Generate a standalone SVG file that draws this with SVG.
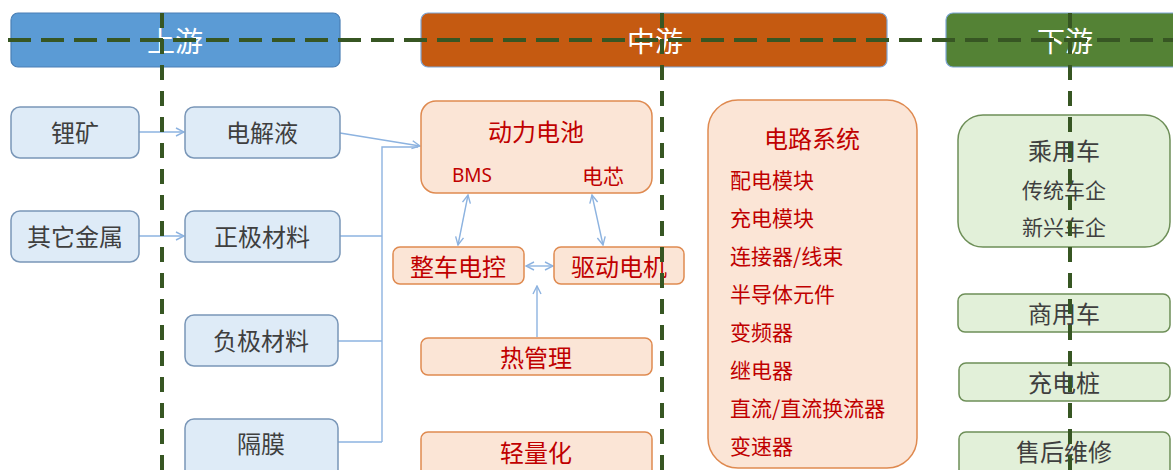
<svg xmlns="http://www.w3.org/2000/svg" width="1173" height="470" viewBox="0 0 1173 470">
<style>
text{font-family:"Noto Sans CJK SC","Noto Sans",sans-serif;text-anchor:middle;dominant-baseline:central}
.hdr text{fill:#fff;font-size:28px}
.b rect{fill:#DEEBF7;stroke:#7A97B8;stroke-width:1.5}
.b text{fill:#3F3F3F;font-size:24px}
.o rect{fill:#FBE5D6;stroke:#DF8A50;stroke-width:1.5}
.o text{fill:#C00000;font-size:24px}
.o text.s{font-size:21px}
.g rect{fill:#E2F0D9;stroke:#6E8F58;stroke-width:1.5}
.g text{fill:#3F3F3F;font-size:24px}
.g text.s{font-size:21px}
.l text{text-anchor:start}
.c{fill:none;stroke:#8DB3E0;stroke-width:1.4}
.dash{stroke:#375623;stroke-width:4;fill:none}
</style>
<defs>
<marker id="ah" viewBox="0 0 10 10" refX="9" refY="5" markerWidth="10" markerHeight="10" markerUnits="userSpaceOnUse" orient="auto-start-reverse">
<path d="M1,1 L9,5 L1,9" fill="none" stroke="#8DB3E0" stroke-width="1.4"/>
</marker>
</defs>
<rect width="1173" height="470" fill="#fff"/>
<g id="headers" class="hdr">
<g id="h-up"><rect x="11" y="13" width="329" height="54" rx="7" fill="#5B9BD5" stroke="#4A7FB5" stroke-width="1.2"/><text x="175" y="40">上游</text></g>
<g id="h-mid"><rect x="421" y="13" width="466" height="54" rx="7" fill="#C55A11" stroke="#7EA6D6" stroke-width="1.2"/><text x="655" y="40">中游</text></g>
<g id="h-down"><rect x="946" y="13" width="240" height="54" rx="7" fill="#548235" stroke="#7EA6D6" stroke-width="1.2"/><text x="1065" y="40">下游</text></g>
</g>
<g id="connectors">
<path class="c" d="M139,132 H184" marker-end="url(#ah)"/>
<path class="c" d="M139,236 H184" marker-end="url(#ah)"/>
<path class="c" d="M340,133 L420,146" marker-end="url(#ah)"/>
<path class="c" d="M382,442 V147 H418"/>
<path class="c" d="M340,236 H382"/>
<path class="c" d="M338,341 H382"/>
<path class="c" d="M338,442 H382"/>
<path class="c" d="M468,195 L458,245" marker-start="url(#ah)" marker-end="url(#ah)"/>
<path class="c" d="M592,195 L603,245" marker-start="url(#ah)" marker-end="url(#ah)"/>
<path class="c" d="M526,266 H553" marker-start="url(#ah)" marker-end="url(#ah)"/>
<path class="c" d="M537,337 V286" marker-end="url(#ah)"/>
</g>
<g id="n-lithium" class="b"><rect x="11" y="107" width="128" height="51" rx="9"/><text x="75" y="131">锂矿</text></g>
<g id="n-metal" class="b"><rect x="11" y="211" width="128" height="51" rx="9"/><text x="75" y="235">其它金属</text></g>
<g id="n-electrolyte" class="b"><rect x="185" y="107" width="155" height="51" rx="9"/><text x="262" y="131">电解液</text></g>
<g id="n-cathode" class="b"><rect x="185" y="211" width="155" height="51" rx="9"/><text x="262" y="235">正极材料</text></g>
<g id="n-anode" class="b"><rect x="185" y="315" width="153" height="51" rx="9"/><text x="261" y="339">负极材料</text></g>
<g id="n-separator" class="b"><rect x="185" y="419" width="153" height="60" rx="9"/><text x="261" y="442">隔膜</text></g>
<g id="n-battery" class="o"><rect x="421" y="101" width="231" height="92" rx="15"/><text x="536" y="130">动力电池</text><text class="s" x="472" y="175" style="font-family:'Noto Sans',sans-serif;font-size:19px">BMS</text><text class="s" x="603" y="175">电芯</text></g>
<g id="n-vcu" class="o"><rect x="393" y="247" width="131" height="37" rx="7"/><text x="458" y="265">整车电控</text></g>
<g id="n-motor" class="o"><rect x="554" y="247" width="130" height="37" rx="7"/><text x="619" y="265">驱动电机</text></g>
<g id="n-thermal" class="o"><rect x="421" y="338" width="231" height="37" rx="7"/><text x="536" y="356">热管理</text></g>
<g id="n-light" class="o"><rect x="421" y="432" width="231" height="48" rx="7"/><text x="536" y="451">轻量化</text></g>
<g id="n-circuit" class="o l"><rect x="708" y="100" width="209" height="368" rx="30"/>
<text x="812" y="137" style="text-anchor:middle">电路系统</text>
<text class="s" x="730" y="179">配电模块</text>
<text class="s" x="730" y="217">充电模块</text>
<text class="s" x="730" y="255">连接器/线束</text>
<text class="s" x="730" y="293">半导体元件</text>
<text class="s" x="730" y="331">变频器</text>
<text class="s" x="730" y="369">继电器</text>
<text class="s" x="730" y="407">直流/直流换流器</text>
<text class="s" x="730" y="445">变速器</text>
</g>
<g id="n-passenger" class="g"><rect x="958" y="115" width="212" height="132" rx="25"/><text x="1064" y="149">乘用车</text><text class="s" x="1064" y="189">传统车企</text><text class="s" x="1064" y="226">新兴车企</text></g>
<g id="n-commercial" class="g"><rect x="958" y="294" width="212" height="38" rx="7"/><text x="1064" y="312">商用车</text></g>
<g id="n-charger" class="g"><rect x="959" y="363" width="211" height="38" rx="7"/><text x="1064" y="381">充电桩</text></g>
<g id="n-service" class="g"><rect x="959" y="432" width="211" height="48" rx="7"/><text x="1064" y="450">售后维修</text></g>
<g id="dividers">
<path class="dash" d="M8,40 H1173" stroke-dasharray="23 10"/>
<path class="dash" d="M162,13 V470" stroke-dasharray="15 11"/>
<path class="dash" d="M662,13 V470" stroke-dasharray="15 11"/>
<path class="dash" d="M1070,13 V470" stroke-dasharray="15 11"/>
</g>
</svg>
